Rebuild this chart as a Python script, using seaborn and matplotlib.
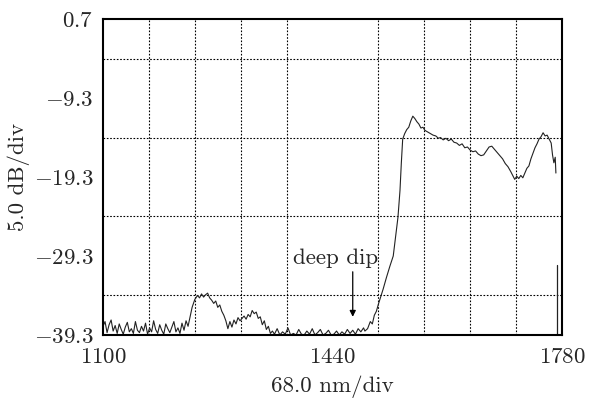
import numpy as np
import pandas as pd
import matplotlib
matplotlib.use("Agg")
import matplotlib.pyplot as plt
import seaborn as sns

# ---- data ----
wl_floor1 = [1100, 1103, 1106, 1109, 1112, 1115, 1118, 1121, 1124, 1127, 1130, 1133, 1136, 1139,
             1142, 1145, 1148, 1151, 1154, 1157, 1160, 1163, 1166, 1169, 1172, 1175, 1178, 1181,
             1184, 1187, 1190, 1193, 1196, 1199, 1202, 1205, 1208, 1211, 1214, 1217, 1220, 1223, 1226]
pw_floor1 = [-38.2, -37.6, -39.0, -38.0, -37.4, -38.8, -38.1, -39.1, -37.9, -38.6, -39.2, -38.3, -37.7, -38.9,
             -38.5, -39.1, -37.6, -38.7, -39.0, -38.2, -38.8, -37.8, -39.2, -38.4, -38.9, -37.5, -38.6, -39.1,
             -38.0, -38.7, -39.2, -37.9, -38.5, -39.0, -38.3, -37.6, -38.9, -38.4, -39.1, -37.8, -38.7, -37.5, -38.2]

wl_bump = [1229, 1232, 1236, 1240, 1243, 1246, 1249, 1252, 1255, 1258, 1261, 1264, 1267, 1270, 1273,
           1276, 1279, 1282, 1285, 1288, 1291, 1294, 1297, 1300, 1303, 1306, 1309, 1312, 1315, 1318,
           1321, 1324, 1327, 1330, 1333, 1336, 1339, 1342, 1345, 1348, 1351]
pw_bump = [-37.0, -35.8, -34.8, -34.3, -34.6, -34.1, -34.5, -34.2, -34.0, -34.6, -34.9, -35.3, -35.0, -35.8, -35.5,
           -36.3, -36.8, -37.5, -38.5, -37.6, -38.3, -37.4, -37.9, -37.1, -37.5, -37.2, -36.9, -37.3, -36.7, -37.0,
           -36.2, -36.6, -36.4, -37.2, -37.0, -38.0, -37.5, -38.6, -38.2, -39.1, -38.8]

wl_floor2 = [1354, 1358, 1362, 1366, 1370, 1374, 1378, 1382, 1386, 1390, 1394, 1398, 1402, 1406, 1410,
             1414, 1418, 1422, 1426, 1430, 1434, 1438, 1442, 1446, 1450, 1454, 1458, 1462, 1466, 1470,
             1474, 1478, 1482, 1486]
pw_floor2 = [-39.2, -38.5, -39.3, -38.9, -39.2, -38.4, -39.3, -39.1, -39.3, -38.6, -39.2, -39.3, -38.8, -39.2,
             -38.5, -39.3, -39.0, -38.6, -39.3, -39.1, -38.7, -39.3, -39.2, -38.8, -39.3, -38.9, -39.2, -38.6,
             -39.1, -38.7, -39.2, -38.5, -38.9, -38.4]

wl_rise = [1488, 1492, 1496, 1499, 1502, 1505, 1508, 1511, 1515, 1520, 1525, 1530, 1534, 1537, 1540,
           1542, 1544, 1547, 1550, 1553, 1556, 1559, 1562, 1565, 1568, 1571, 1574, 1577, 1581, 1585,
           1589, 1593, 1597, 1600, 1604, 1608, 1612, 1616, 1620, 1624, 1628, 1632, 1636, 1640, 1644,
           1648, 1652, 1656, 1660, 1664, 1668, 1672, 1676, 1680, 1684, 1688, 1692, 1696, 1700, 1704,
           1707, 1710, 1713, 1716, 1719, 1722, 1725, 1728, 1731, 1734, 1737, 1740, 1743, 1746, 1749,
           1752, 1755, 1758, 1761, 1764, 1766, 1768, 1770, 1771]
pw_rise = [-38.8, -38.5, -37.6, -37.9, -36.8, -36.3, -35.4, -34.6, -33.5, -32.0, -30.6, -29.3, -26.5, -24.4, -21.0,
           -17.5, -14.5, -13.8, -13.3, -13.0, -12.2, -11.6, -11.9, -12.3, -12.6, -13.1, -13.0, -13.4, -13.6, -13.8,
           -14.0, -14.1, -14.4, -14.3, -14.6, -14.4, -14.7, -14.5, -14.9, -15.0, -15.3, -15.1, -15.6, -15.5, -15.9,
           -16.1, -16.0, -16.4, -16.6, -16.5, -16.0, -15.5, -15.4, -15.8, -16.2, -16.6, -17.0, -17.6, -18.0, -18.6,
           -19.1, -19.6, -19.2, -19.5, -19.1, -19.4, -18.8, -18.2, -17.9, -17.0, -16.3, -15.6, -15.1, -14.5, -14.2,
           -13.7, -14.1, -14.0, -14.5, -15.0, -16.5, -17.5, -16.8, -18.8]

spike_wl = [1773, 1773]
spike_pw = [-30.4, -39.3]

x_ticks = [1100, 1440, 1780]
x_tick_labels = ["1100", "1440", "1780"]
y_ticks = [0.7, -9.3, -19.3, -29.3, -39.3]
y_tick_labels = ["0.7", "-9.3", "-19.3", "-29.3", "-39.3"]

wavelength = wl_floor1 + wl_bump + wl_floor2 + wl_rise
power = pw_floor1 + pw_bump + pw_floor2 + pw_rise
df = pd.DataFrame({"wavelength": wavelength, "power": power})
df_spike = pd.DataFrame({"wavelength": spike_wl, "power": spike_pw})

# ---- style ----
sns.set_theme(style="white")
plt.rcParams["font.family"] = ["cmr10", "DejaVu Serif"]
plt.rcParams["mathtext.fontset"] = "cm"
plt.rcParams["axes.formatter.use_mathtext"] = True

FS = 16.5

fig = plt.figure(figsize=(5.9, 4.01), dpi=100)
ax = fig.add_axes([0.1746, 0.1646, 0.7779, 0.7880])

sns.lineplot(data=df, x="wavelength", y="power", ax=ax, color="#222222",
             linewidth=0.8, estimator=None, sort=False)
sns.lineplot(data=df_spike, x="wavelength", y="power", ax=ax, color="#222222",
             linewidth=0.9, estimator=None, sort=False)

ax.set_xlim(1100, 1780)
ax.set_ylim(-39.3, 0.7)

# grid every division
ax.set_xticks(np.linspace(1100, 1780, 11), minor=True)
ax.set_yticks(np.linspace(-39.3, 0.7, 9), minor=True)
ax.grid(True, which="minor", linestyle=(0, (1.5, 1.5)), color="black", linewidth=0.8)
ax.grid(False, which="major")

ax.set_xticks(x_ticks)
ax.set_xticklabels([f"${t}$" for t in x_tick_labels])
ax.set_yticks(y_ticks)
ax.set_yticklabels([f"${t}$" for t in y_tick_labels])
ax.tick_params(axis="x", which="both", length=0, labelsize=FS, pad=9)
ax.tick_params(axis="y", which="both", length=0, labelsize=FS, pad=7)

for s in ax.spines.values():
    s.set_visible(True)
    s.set_color("black")
    s.set_linewidth(1.5)

ax.set_xlabel("68.0 nm/div", fontsize=FS, labelpad=6)
ax.set_ylabel("5.0 dB/div", fontsize=FS, labelpad=3)

ax.annotate("", xy=(1470, -37.0), xytext=(1470, -31.3),
            arrowprops=dict(arrowstyle="-|>", color="black", lw=0.9,
                            mutation_scale=9, shrinkA=0, shrinkB=0))
ax.text(1444, -29.6, "deep dip", fontsize=FS, ha="center", va="center")

fig.savefig("out.png", dpi=100)
